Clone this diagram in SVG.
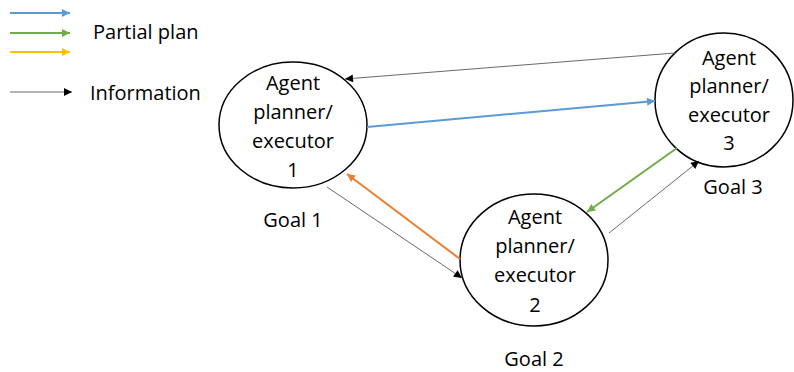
<svg xmlns="http://www.w3.org/2000/svg" width="794" height="372" viewBox="0 0 794 372">
<defs>
<style>
.node{fill:#fff;stroke:#000;stroke-width:1.5}
.t{font-family:"Open Sans","Liberation Sans",sans-serif;font-size:20px;fill:#000;text-anchor:middle}
.tl{font-family:"Open Sans","Liberation Sans",sans-serif;font-size:20px;fill:#000}
.info{stroke:#595959;stroke-width:0.9;fill:none}
.blue{stroke:#5B9BD5;stroke-width:2;fill:none}
.green{stroke:#70AD47;stroke-width:2;fill:none}
.yellow{stroke:#FFC000;stroke-width:2;fill:none}
.orange{stroke:#ED7D31;stroke-width:2;fill:none}
</style>
<marker id="aInfo" viewBox="0 0 10 10" refX="10" refY="5" markerWidth="10" markerHeight="8" markerUnits="userSpaceOnUse" orient="auto"><path d="M0,0 L10,5 L0,10 Z" fill="#000"/></marker>
<marker id="aBlue" viewBox="0 0 10 10" refX="10" refY="5" markerWidth="10" markerHeight="8" markerUnits="userSpaceOnUse" orient="auto"><path d="M0,0 L10,5 L0,10 Z" fill="#5B9BD5"/></marker>
<marker id="aGreen" viewBox="0 0 10 10" refX="10" refY="5" markerWidth="10" markerHeight="8" markerUnits="userSpaceOnUse" orient="auto"><path d="M0,0 L10,5 L0,10 Z" fill="#70AD47"/></marker>
<marker id="aYellow" viewBox="0 0 10 10" refX="10" refY="5" markerWidth="10" markerHeight="8" markerUnits="userSpaceOnUse" orient="auto"><path d="M0,0 L10,5 L0,10 Z" fill="#FFC000"/></marker>
<marker id="aOrange" viewBox="0 0 10 10" refX="10" refY="5" markerWidth="10" markerHeight="8" markerUnits="userSpaceOnUse" orient="auto"><path d="M0,0 L10,5 L0,10 Z" fill="#ED7D31"/></marker>
</defs>
<rect width="794" height="372" fill="#fff"/>

<g id="legend">
<line class="blue" x1="10" y1="13" x2="70" y2="13" marker-end="url(#aBlue)"/>
<line class="green" x1="10" y1="33" x2="70" y2="33" marker-end="url(#aGreen)"/>
<line class="yellow" x1="10" y1="52" x2="70" y2="52" marker-end="url(#aYellow)"/>
<line class="info" x1="10" y1="92" x2="72" y2="92" marker-end="url(#aInfo)"/>
<text class="tl" x="93" y="39">Partial plan</text>
<text class="tl" x="90" y="100">Information</text>
</g>

<g id="node1">
<ellipse class="node" cx="293" cy="125" rx="74" ry="63"/>
<text class="t" x="293" y="90">Agent</text>
<text class="t" x="293" y="119">planner/</text>
<text class="t" x="293" y="148">executor</text>
<text class="t" x="293" y="177">1</text>
<text class="t" x="293" y="227">Goal 1</text>
</g>

<g id="node2">
<ellipse class="node" cx="534" cy="260" rx="74" ry="66"/>
<text class="t" x="535" y="224">Agent</text>
<text class="t" x="535" y="253">planner/</text>
<text class="t" x="535" y="282">executor</text>
<text class="t" x="535" y="312">2</text>
<text class="t" x="534" y="366">Goal 2</text>
</g>

<g id="node3">
<ellipse class="node" cx="724" cy="100" rx="69" ry="67"/>
<text class="t" x="729" y="65">Agent</text>
<text class="t" x="729" y="93">planner/</text>
<text class="t" x="729" y="122">executor</text>
<text class="t" x="729" y="150">3</text>
<text class="t" x="733" y="194">Goal 3</text>
</g>

<g id="connectors">
<line class="info" x1="675" y1="53" x2="345" y2="79" marker-end="url(#aInfo)"/>
<line class="blue" x1="367" y1="127" x2="655" y2="101" marker-end="url(#aBlue)"/>
<line class="green" x1="677" y1="148" x2="587" y2="212" marker-end="url(#aGreen)"/>
<line class="info" x1="609" y1="233" x2="699" y2="161" marker-end="url(#aInfo)"/>
<line class="orange" x1="460" y1="259" x2="347" y2="174" marker-end="url(#aOrange)"/>
<line class="info" x1="327" y1="187" x2="462" y2="278" marker-end="url(#aInfo)"/>
</g>
</svg>
